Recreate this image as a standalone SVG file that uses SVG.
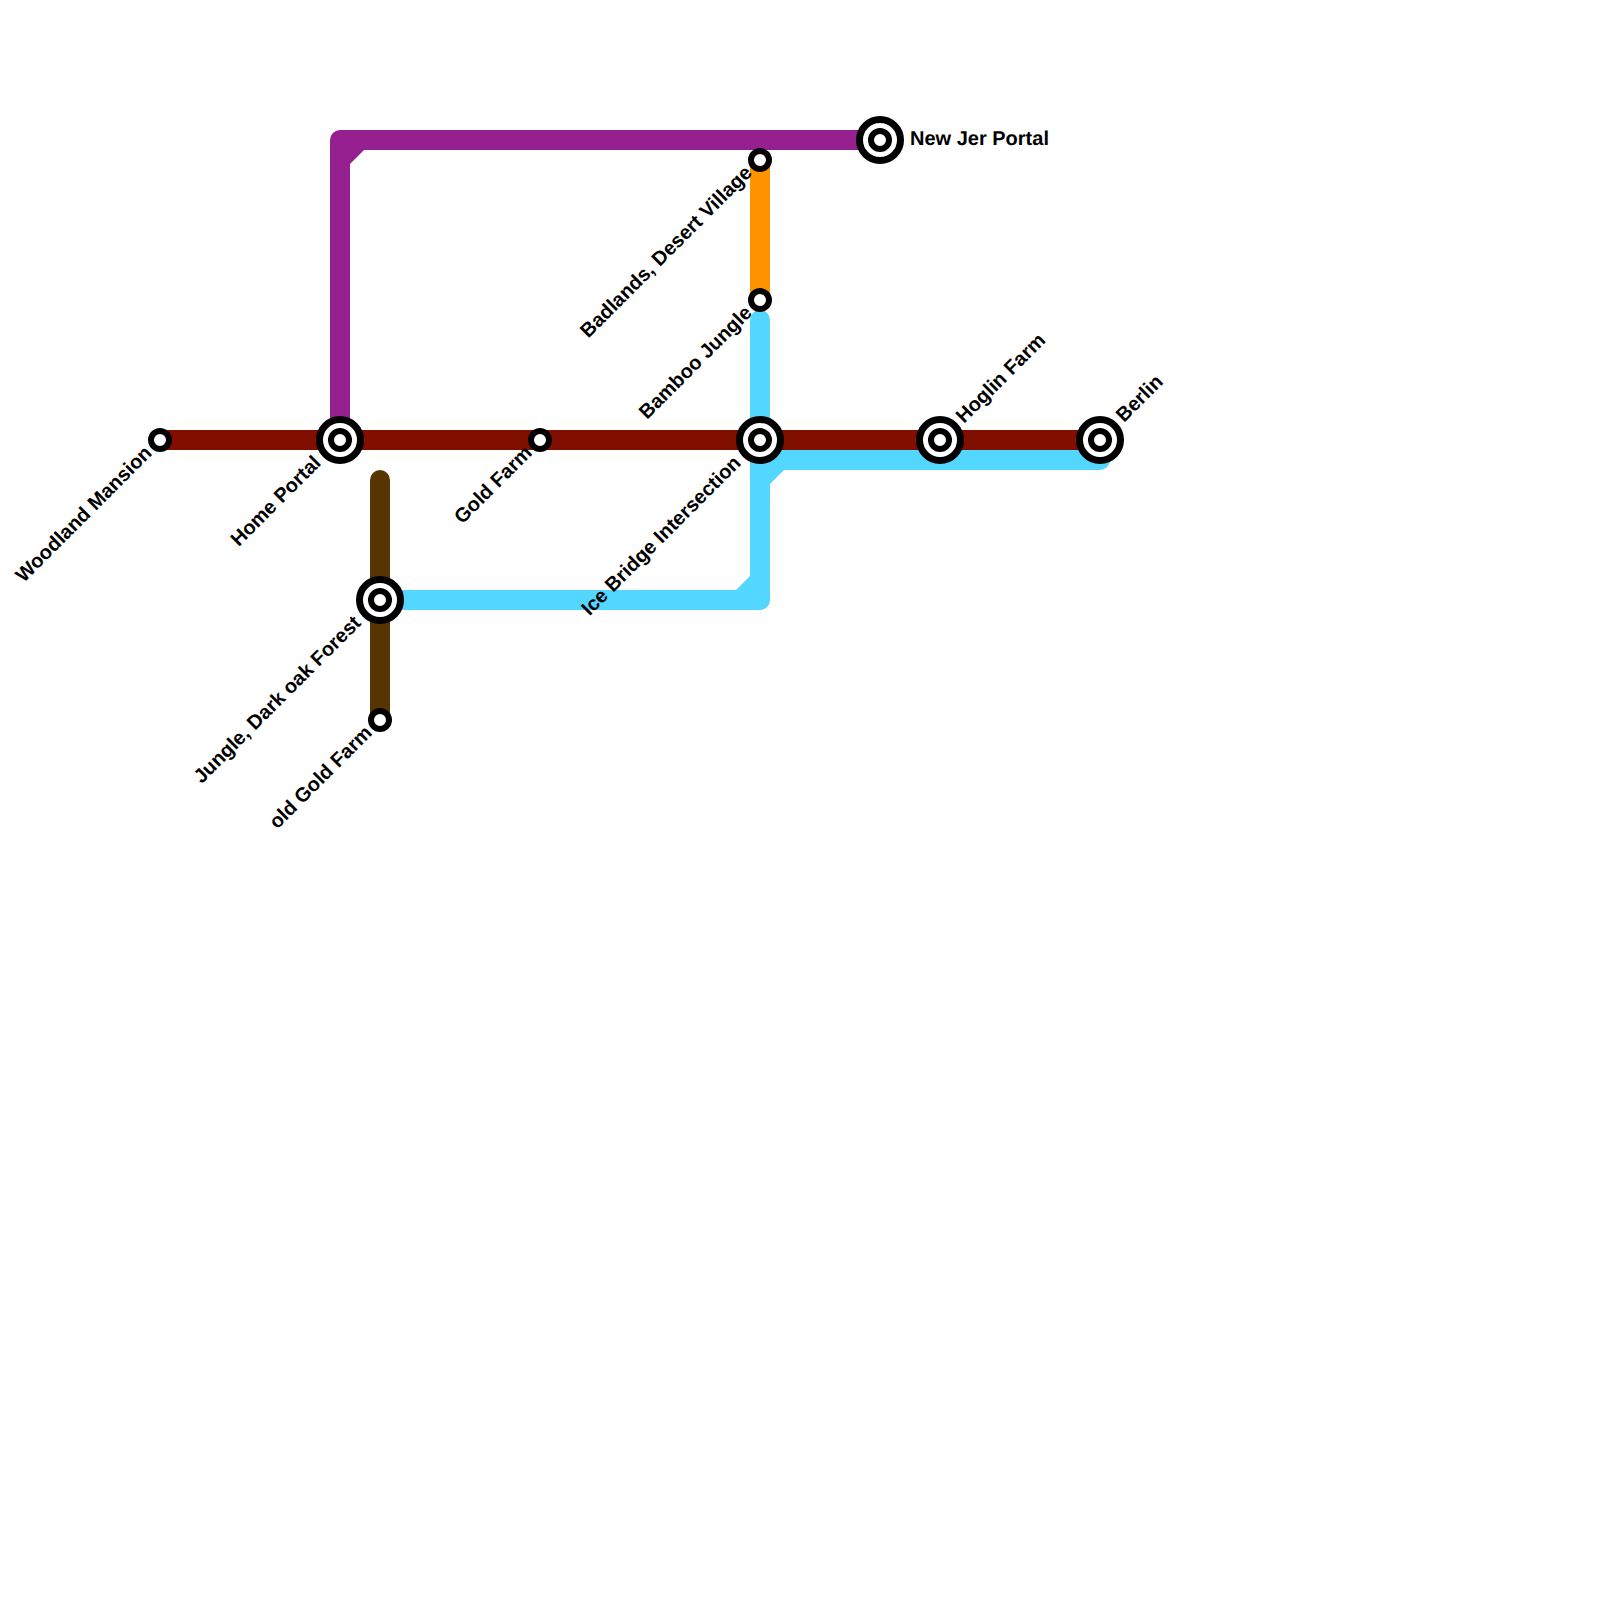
<svg xmlns="http://www.w3.org/2000/svg" width="1600" height="1600" viewBox="0 0 1600 1600">
<defs>
<style>
.ln{fill:none;stroke-width:20;stroke-linejoin:round;stroke-linecap:round}
.b{stroke-linecap:butt}
.c{fill:#fff;stroke:#000;stroke-width:6}
.r{stroke-width:7}
text{font-family:"Liberation Sans",Arial,sans-serif;font-size:20px;font-weight:bold;fill:#000;text-rendering:geometricPrecision}
.e{text-anchor:end}
</style>
<g id="big"><circle class="c r" r="20.5"/><circle class="c" r="9"/></g>
<circle id="small" class="c" r="9"/>
</defs>
<rect width="1600" height="1600" fill="#fff"/>
<g id="connectors">
<path class="ln b" style="stroke:#972090" d="M340 420V140H880"/>
<path fill="#972090" d="M350 150H364L350 164Z"/>
<path class="ln b" style="stroke:#ff9300" d="M760 160V300"/>
<path class="ln" style="stroke:#53d6ff" d="M760 320V600H380M760 460H1100"/>
<path fill="#53d6ff" d="M750 576V590H736ZM770 470H784L770 484Z"/>
<path class="ln b" style="stroke:#800f00" d="M160 440H1100"/>
<path class="ln" style="stroke:#573500" d="M380 480V720"/>
</g>
<g id="n-woodland"><use href="#small" x="160" y="440"/><text class="e" transform="translate(153 454) rotate(-45)">Woodland Mansion</text></g>
<g id="n-home"><use href="#big" x="340" y="440"/><text class="e" transform="translate(322 464) rotate(-45)">Home Portal</text></g>
<g id="n-gold"><use href="#small" x="540" y="440"/><text class="e" transform="translate(533 454) rotate(-45)">Gold Farm</text></g>
<g id="n-ice"><use href="#big" x="760" y="440"/><text class="e" transform="translate(742 464) rotate(-45)">Ice Bridge Intersection</text></g>
<g id="n-hoglin"><use href="#big" x="940" y="440"/><text transform="translate(964 424) rotate(-45)">Hoglin Farm</text></g>
<g id="n-berlin"><use href="#big" x="1100" y="440"/><text transform="translate(1124 423) rotate(-45)">Berlin</text></g>
<g id="n-newjer"><use href="#big" x="880" y="140"/><text x="910" y="145">New Jer Portal</text></g>
<g id="n-badlands"><use href="#small" x="760" y="160"/><text class="e" transform="translate(753 174) rotate(-45)">Badlands, Desert Village</text></g>
<g id="n-bamboo"><use href="#small" x="760" y="300"/><text class="e" transform="translate(753 314) rotate(-45)">Bamboo Jungle</text></g>
<g id="n-jungle"><use href="#big" x="380" y="600"/><text class="e" transform="translate(362 624) rotate(-45)">Jungle, Dark oak Forest</text></g>
<g id="n-oldgold"><use href="#small" x="380" y="720"/><text class="e" transform="translate(373 734) rotate(-45)">old Gold Farm</text></g>
</svg>
